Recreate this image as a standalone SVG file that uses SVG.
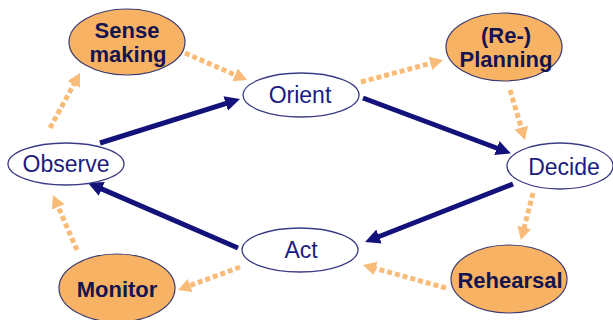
<svg xmlns="http://www.w3.org/2000/svg" width="613" height="320" viewBox="0 0 613 320">
<style>
.wn{fill:#ffffff;stroke:#3a3a86;stroke-width:1.3}
.on{fill:#F8B263;stroke:#3a3a70;stroke-width:1.2}
.wt{font-family:"Liberation Sans",Arial,sans-serif;font-size:23px;fill:#1c1c80;text-anchor:middle}
.ot{font-family:"Liberation Sans",Arial,sans-serif;font-size:22px;font-weight:bold;fill:#141450;text-anchor:middle}
.solid{stroke:#12127a;stroke-width:5;fill:none;marker-end:url(#ah)}
.dot{stroke:#F9BC78;stroke-width:5;fill:none;stroke-dasharray:5 3;marker-end:url(#oh)}
</style>
<defs>
<marker id="ah" markerUnits="userSpaceOnUse" viewBox="0 0 15 15" markerWidth="15" markerHeight="15" refX="4" refY="7.5" orient="auto">
<path d="M0,0 L15,7.5 L0,15 z" fill="#12127a"/>
</marker>
<marker id="oh" markerUnits="userSpaceOnUse" viewBox="0 0 13 14" markerWidth="13" markerHeight="14" refX="4" refY="7" orient="auto">
<path d="M0,0 L13,7 L0,14 z" fill="#F9BC78"/>
</marker>
</defs>
<g id="connectors">
<line class="solid" x1="100" y1="143" x2="229.5" y2="102.3"/>
<line class="solid" x1="363" y1="98" x2="500.6" y2="149.5"/>
<line class="solid" x1="513" y1="184" x2="375.3" y2="238"/>
<line class="solid" x1="238" y1="248" x2="98.1" y2="187.4"/>
<line class="dot" x1="50" y1="128" x2="75.7" y2="80.9"/>
<line class="dot" x1="185" y1="53" x2="238.7" y2="76.4"/>
<line class="dot" x1="361" y1="82" x2="434.3" y2="62.3"/>
<line class="dot" x1="510" y1="90" x2="522.4" y2="131.4"/>
<line class="dot" x1="533" y1="193" x2="523.2" y2="231.3"/>
<line class="dot" x1="446" y1="288" x2="371.7" y2="267.4"/>
<line class="dot" x1="240" y1="267" x2="186.4" y2="286.9"/>
<line class="dot" x1="77" y1="250" x2="56.6" y2="203.3"/>
</g>
<g id="sensemaking">
<ellipse class="on" cx="127" cy="42" rx="58" ry="33"/>
<text class="ot" x="127" y="38">Sense</text>
<text class="ot" x="128" y="62">making</text>
</g>
<g id="planning">
<ellipse class="on" cx="504" cy="47" rx="58" ry="34"/>
<text class="ot" x="506" y="43">(Re-)</text>
<text class="ot" x="506" y="67">Planning</text>
</g>
<g id="monitor">
<ellipse class="on" cx="117" cy="288" rx="58" ry="34"/>
<text class="ot" x="117" y="297">Monitor</text>
</g>
<g id="rehearsal">
<ellipse class="on" cx="509" cy="279" rx="58" ry="34"/>
<text class="ot" x="510" y="288">Rehearsal</text>
</g>
<g id="orient">
<ellipse class="wn" cx="301" cy="95" rx="58" ry="22"/>
<text class="wt" x="300" y="103">Orient</text>
</g>
<g id="decide">
<ellipse class="wn" cx="560" cy="166" rx="53" ry="23"/>
<text class="wt" x="564" y="175">Decide</text>
</g>
<g id="observe">
<ellipse class="wn" cx="66" cy="164" rx="58" ry="21"/>
<text class="wt" x="66" y="172">Observe</text>
</g>
<g id="act">
<ellipse class="wn" cx="300" cy="250" rx="58" ry="22"/>
<text class="wt" x="301" y="258">Act</text>
</g>
</svg>
